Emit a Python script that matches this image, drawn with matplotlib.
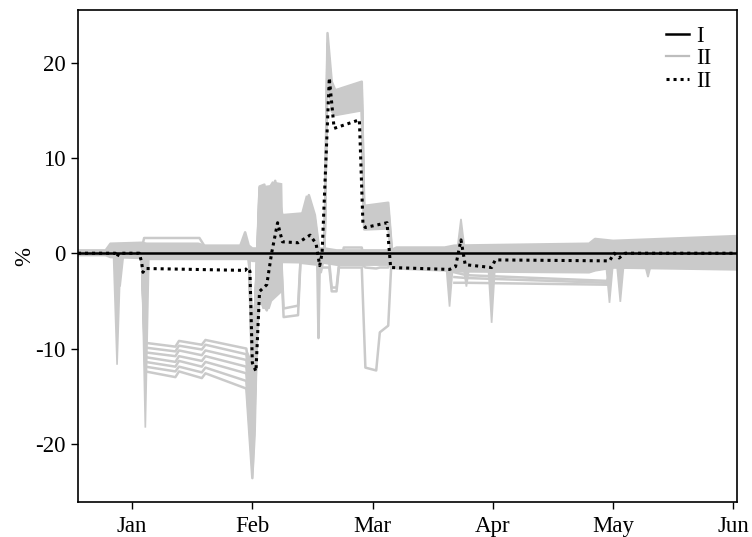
import matplotlib
matplotlib.use('Agg')
import matplotlib.pyplot as plt
from matplotlib.lines import Line2D

plt.rcParams['font.family'] = ['Liberation Serif', 'DejaVu Serif']
plt.rcParams['axes.unicode_minus'] = False
plt.rcParams['font.size'] = 16.5

# ---- data (x in month units: Jan = 1 ... Jun = 6) ----
month_labels = ['Jan', 'Feb', 'Mar', 'Apr', 'May', 'Jun']
month_pos = [1, 2, 3, 4, 5, 6]
x_range = [0.55, 6.03]
ref_level = [0.0, 0.0]   # series I

# dense band of simulations around zero (series II)
band_x  = [0.55, 0.78, 0.82, 1.08, 1.12, 1.55, 1.60, 1.90, 1.94, 1.97, 2.00, 2.60, 2.70, 3.15, 3.20, 3.60, 3.68, 4.80, 4.85, 5.00, 6.03]
band_hi = [0.3, 0.3, 1.0, 1.1, 1.0, 1.0, 0.8, 0.8, 2.2, 0.8, 0.5, 0.5, 0.3, 0.3, 0.6, 0.6, 0.8, 1.0, 1.5, 1.3, 1.8]
band_lo = [-0.2, -0.2, -0.4, -0.5, -0.6, -0.6, -0.6, -0.6, -0.6, -0.6, -0.8, -1.0, -1.2, -1.2, -1.6, -1.8, -1.9, -2.0, -1.8, -1.5, -1.7]

jan_top_x = [1.08, 1.10, 1.56, 1.60]
jan_top_y = [0.5, 1.6, 1.6, 0.8]

# group of simulations falling to -10 ... -14 in January
low_x = [1.08, 1.11, 1.36, 1.39, 1.58, 1.61, 1.95, 2.00, 2.06]
low_1 = [0.0, -9.4, -9.8, -9.2, -9.6, -9.1, -10.0, -15.0, 6.8]
low_2 = [0.0, -9.9, -10.3, -9.7, -10.1, -9.6, -10.6, -16.5, 6.0]
low_3 = [0.0, -10.4, -10.8, -10.2, -10.7, -10.2, -11.2, -18.0, 5.0]
low_4 = [0.0, -10.9, -11.4, -10.8, -11.3, -10.8, -11.9, -19.5, 4.0]
low_5 = [0.0, -11.4, -11.9, -11.3, -11.9, -11.4, -12.6, -21.0, 2.5]
low_6 = [0.0, -11.9, -12.4, -11.9, -12.5, -12.0, -13.4, -22.5, 1.0]
low_7 = [0.0, -12.4, -13.0, -12.4, -13.1, -12.6, -14.2, -23.6, -1.0]

# mass of simulations at the start of February
dip_x  = [1.95, 1.985, 2.005, 2.025, 2.045, 2.06]
dip_hi = [-10.0, -11.0, -12.0, -6.0, -1.0, 2.0]
dip_lo = [-14.2, -18.0, -23.6, -19.0, -8.0, -6.0]

# February / March swings
swing_x = [1.97, 2.00, 2.06, 2.10, 2.15, 2.19, 2.25, 2.44, 2.47, 2.52, 2.57, 2.60, 2.625, 2.66, 2.69, 2.91, 2.93, 2.95, 3.13, 3.16]
swing_1 = [0.5, -14.0, 7.0, 7.2, 2.5, 7.6, 4.0, 4.2, 6.1, 4.0, -1.0, 0.0, 23.1, 18.0, 17.1, 18.0, 5.0, 5.0, 5.3, 0.5]
swing_2 = [0.5, -13.0, 6.2, 6.5, 2.0, 7.0, 3.6, 3.8, 5.0, 3.5, -1.2, 0.0, 22.0, 17.0, 16.3, 17.2, 4.5, 4.4, 4.7, 0.3]
swing_3 = [0.5, -12.0, 5.0, 5.5, 1.5, 6.0, 3.2, 3.4, 4.0, 3.0, -1.5, 0.0, 21.0, 16.2, 15.5, 16.3, 3.8, 3.7, 4.0, 0.0]
swing_4 = [0.3, -11.0, 3.5, 4.0, 1.0, 5.0, 2.8, 3.0, 3.2, 2.5, -1.8, 0.0, 20.0, 15.4, 15.0, 15.6, 3.0, 3.0, 3.3, -0.3]
swing_5 = [0.3, -10.0, 2.0, 2.5, 0.5, 3.5, 2.5, 2.6, 2.8, 2.0, -2.0, 0.0, 19.0, 14.9, 14.5, 15.0, 2.5, 2.5, 2.6, -0.5]

# dense vertical mass of simulations in early February
mass_x  = [2.03, 2.06, 2.08, 2.14, 2.16, 2.245, 2.25, 2.38, 2.40, 2.44, 2.47, 2.50, 2.54]
mass_hi = [0.0, 6.8, 7.1, 7.2, 7.6, 7.4, 4.0, 4.2, 4.2, 6.1, 6.1, 4.0, 0.0]
mass_lo = [-3.0, -5.0, -5.8, -5.8, -5.0, -4.0, -1.0, -1.0, -1.0, -1.0, -1.0, -1.0, -1.0]

drop_x = [1.97, 2.02, 2.07, 2.10, 2.12, 2.24, 2.25, 2.26, 2.38, 2.40, 2.54, 2.55, 2.56, 2.64, 2.66, 2.70, 2.72, 2.91, 2.94, 3.03, 3.06, 3.13, 3.16]
drop_1 = [0.0, -15.0, 7.0, -5.5, -6.0, -1.0, -4.0, -6.7, -6.5, -1.0, -1.2, -8.9, -1.5, -1.5, -4.0, -4.0, -1.5, -1.5, -12.0, -12.3, -8.3, -7.6, 0.0]
drop_2 = [0.0, -12.0, 6.0, -4.0, -4.5, -0.5, -3.0, -5.8, -5.5, -0.8, -0.8, -2.0, -1.0, -1.0, -3.6, -3.6, -1.2, -1.2, -1.5, -1.6, -1.5, -1.5, 0.0]

box_x = [2.74, 2.76, 2.91, 2.93]
box_y = [-1.0, 0.6, 0.6, -1.0]

# narrow spikes of single simulations
spike_x = [0.875, 0.90, 1.11, 3.64, 3.735, 3.78, 3.99, 4.97, 5.06, 5.29]
spike_y = [-11.7, -3.5, -18.3, -5.6, 3.6, -3.5, -7.3, -5.2, -5.1, -2.5]
spike_base = [0.0, 0.0, 0.0, -1.0, 0.5, -1.0, -1.0, -1.0, -1.0, -1.0]

# April-May lower simulations
am_x = [3.68, 3.78, 4.95, 5.00]
am_1 = [-2.0, -2.3, -2.9, -1.0]
am_2 = [-2.5, -2.6, -3.1, -1.0]
am_3 = [-3.1, -3.1, -3.3, -1.2]

# average of simulations (series II, dotted)
mean_x = [0.55, 0.86, 0.875, 0.89, 1.06, 1.08, 1.09, 1.11, 1.94, 1.96, 1.98, 2.00, 2.03, 2.06, 2.12, 2.16, 2.21, 2.25, 2.38, 2.48, 2.53, 2.56, 2.58, 2.64, 2.68, 2.89, 2.92, 2.94, 3.12, 3.15, 3.64, 3.69, 3.735, 3.77, 3.99, 4.02, 4.97, 5.01, 5.05, 5.10, 6.03]
mean_y = [0.0, 0.0, -0.4, 0.0, 0.0, -1.0, -2.0, -1.6, -1.8, -1.5, -1.9, -11.5, -12.4, -4.0, -3.3, 0.0, 3.2, 1.2, 1.1, 1.9, 1.0, -1.3, 0.0, 18.4, 13.1, 14.0, 3.0, 2.7, 3.2, -1.5, -1.7, -1.4, 1.4, -1.2, -1.5, -0.7, -0.8, 0.0, -0.5, 0.0, 0.0]

# ---- plotting ----
gray = '#cacaca'
fig = plt.figure(figsize=(7.52, 5.37), dpi=100)
ax = fig.add_axes([0.1037, 0.0652, 0.8763, 0.9158])

lw = 1.8
ax.fill_between(band_x, band_lo, band_hi, color=gray, lw=0, zorder=1)
ax.fill_between(mass_x, mass_lo, mass_hi, color=gray, lw=0, zorder=1)
ax.fill_between(dip_x, dip_lo, dip_hi, color=gray, lw=0, zorder=1)
ax.fill_between(swing_x[2:], swing_5[2:], swing_1[2:], color=gray, lw=0, zorder=1)
ax.plot(band_x, band_hi, color=gray, lw=lw, zorder=1)
ax.plot(band_x, band_lo, color=gray, lw=lw, zorder=1)
ax.plot(jan_top_x, jan_top_y, color=gray, lw=lw, zorder=1)
for ys in (low_1, low_2, low_3, low_4, low_5, low_6, low_7):
    ax.plot(low_x, ys, color=gray, lw=lw, zorder=1)
for ys in (swing_1, swing_2, swing_3, swing_4, swing_5):
    ax.plot(swing_x, ys, color=gray, lw=lw, zorder=1)
for ys in (drop_1, drop_2):
    ax.plot(drop_x, ys, color=gray, lw=lw, zorder=1)
ax.plot(box_x, box_y, color=gray, lw=lw, zorder=1)
for ys in (am_1, am_2, am_3):
    ax.plot(am_x, ys, color=gray, lw=lw, zorder=1)
w = 0.03
for c, p, b in zip(spike_x, spike_y, spike_base):
    ax.fill([c - w, c, c + w], [b, p, b], color=gray, lw=1.2, zorder=1)

l1, = ax.plot(x_range, ref_level, color='black', lw=1.8, zorder=3)
l3, = ax.plot(mean_x, mean_y, color='black', lw=2.2, linestyle=(0, (1, 1.3)), zorder=4)
l2 = Line2D([], [], color='#bdbdbd', lw=1.6)

ax.legend([l1, l2, l3], ['I', 'II', 'II'], loc='upper right', frameon=False,
          handlelength=1.0, handletextpad=0.3, labelspacing=0.05,
          borderaxespad=0.6, bbox_to_anchor=(0.996, 1.014))

ax.set_xlim(x_range)
ax.set_ylim(-26.1, 25.5)
ax.set_xticks(month_pos)
ax.set_xticklabels(month_labels)
ax.set_yticks([-20, -10, 0, 10, 20])
ax.set_ylabel('%', labelpad=0)
ax.tick_params(direction='out', length=5, width=1, top=False, right=False)
ax.tick_params(axis='x', pad=5)
ax.tick_params(axis='y', pad=4)
for s in ax.spines.values():
    s.set_linewidth(1.2)

fig.savefig('out.png', dpi=100)
